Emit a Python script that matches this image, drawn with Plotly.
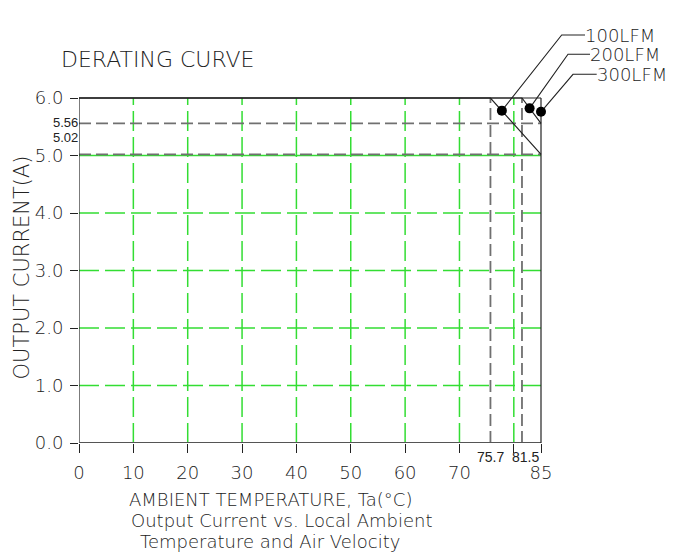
import plotly.graph_objects as go

# ---------------- data ----------------
temp_100 = [0, 75.7, 85]
cur_100 = [6.0, 6.0, 5.02]
temp_200 = [0, 81.5, 85]
cur_200 = [6.0, 6.0, 5.56]
temp_300 = [0, 85]
cur_300 = [6.0, 6.0]

lfm_labels = ["100LFM", "200LFM", "300LFM"]
dot_temps = [77.8, 82.9, 85.0]
dot_currents = [5.78, 5.82, 5.76]

x_tickvals = [0, 10, 20, 30, 40, 50, 60, 70, 80, 85]
x_ticktext = ["0", "10", "20", "30", "40", "50", "60", "70", "", "85"]
y_tickvals = [0, 1, 2, 3, 4, 5, 6]
y_ticktext = ["0.0", "1.0", "2.0", "3.0", "4.0", "5.0", "6.0"]

grid_x = [10, 20, 30, 40, 50, 60, 70, 80]
grid_y = [1, 2, 3, 4]

X_MAX = 85
Y_MAX = 6.0

# ---------------- layout geometry (pixels) ----------------
OFF = 8                      # page body margin
W, H = 668, 548
AX0_X, AX0_Y = 79, 443       # screen px of the data origin
L, R, T = AX0_X - OFF, 0, 0
B = H - (AX0_Y - OFF)
PX_PER_X = (541 - 79) / 85.0
PX_PER_Y = (443 - 98) / 6.0
pw, ph = W - L - R, H - T - B


def xp(px):
    return (px - OFF - L) / pw


def yp(py):
    return (H - B - (py - OFF)) / ph


def dx(px):
    return (px - AX0_X) / PX_PER_X


def dy(py):
    return (AX0_Y - py) / PX_PER_Y


FONT = "DejaVu Sans"
WGT = 200
NARROW = "Liberation Sans Narrow, Liberation Sans"
INK = "#222222"
GREEN = "#33dd33"
GRAY = "#707070"

fig = go.Figure()


def seg(xs, ys, color, width, dash="solid"):
    fig.add_trace(go.Scatter(x=xs, y=ys, mode="lines", hoverinfo="skip",
                             line=dict(color=color, width=width, dash=dash),
                             showlegend=False))


# green grid
for gx in grid_x:
    seg([gx, gx], [0, Y_MAX], GREEN, 1.5, "20px,6px")
for gy in grid_y:
    seg([0, X_MAX], [gy, gy], GREEN, 1.5, "20px,6px")
seg([0, X_MAX], [5, 5], GREEN, 1.5)

# gray reference lines from curve break points
for t in (temp_100[1], temp_200[1]):
    seg([t, t], [0, Y_MAX], GRAY, 1.8, "12px,5px")
for c in (cur_100[-1], cur_200[-1]):
    seg([0, X_MAX], [c, c], GRAY, 1.8, "12px,5px")

# frame
seg([0, 0], [0, Y_MAX], INK, 1.2)
seg([0, X_MAX], [0, 0], "#555555", 1.8)
seg([X_MAX, X_MAX], [0, Y_MAX], INK, 1.2)

# curves
seg(temp_300, cur_300, INK, 1.2)
seg(temp_200, cur_200, INK, 1.2)
seg(temp_100, cur_100, INK, 1.2)

# leaders (bend and end, screen pixels)
bends_px = [(561.7, 35), (568, 54.3), (573, 74.3)]
ends_px = [585, 590, 596.7]
for i in range(3):
    bx, by = dx(bends_px[i][0]), dy(bends_px[i][1])
    ex = dx(ends_px[i])
    seg([dot_temps[i], bx, ex], [dot_currents[i], by, by], INK, 1.1)
    fig.add_annotation(x=ex, y=by, xref="x", yref="y", text=lfm_labels[i],
                       showarrow=False, xanchor="left", yanchor="middle",
                       xshift=-2, font=dict(family=FONT, size=18, color=INK, weight=WGT))

fig.add_trace(go.Scatter(x=dot_temps, y=dot_currents, mode="markers",
                         marker=dict(color="black", size=10, symbol="circle"),
                         hoverinfo="skip", showlegend=False))

# small value labels
for t in (temp_100[1], temp_200[1]):
    fig.add_annotation(x=t, y=0, xref="x", yref="y", text=str(t), showarrow=False,
                       xanchor="center", yanchor="top", yshift=-4,
                       xshift=0 if t == temp_100[1] else 4,
                       font=dict(family=NARROW, size=14, color=INK))
for c, ys in ((cur_200[-1], 1), (cur_100[-1], 17)):
    fig.add_annotation(x=0, y=c, xref="x", yref="y", text=f"{c:.2f}", showarrow=False,
                       xanchor="right", yanchor="middle", yshift=ys, xshift=1,
                       font=dict(family=NARROW, size=13, color=INK))

# titles
fig.add_annotation(x=xp(158), y=yp(59), xref="paper", yref="paper",
                   xanchor="center", yanchor="middle",
                   text="DERATING CURVE", showarrow=False,
                   font=dict(family=FONT, size=22, color=INK, weight=WGT))
fig.add_annotation(x=xp(21.5), y=yp(268), xref="paper", yref="paper",
                   xanchor="center", yanchor="middle",
                   text="OUTPUT CURRENT(A)", showarrow=False, textangle=-90,
                   font=dict(family=FONT, size=21, color=INK, weight=WGT))
for txt, cx, cy in (("AMBIENT TEMPERATURE, Ta(°C)", 270, 499),
                    ("Output Current vs. Local Ambient", 282, 520),
                    ("Temperature and Air Velocity", 270, 541)):
    fig.add_annotation(x=xp(cx), y=yp(cy), xref="paper", yref="paper",
                       xanchor="center", yanchor="middle",
                       text=txt, showarrow=False,
                       font=dict(family=FONT, size=18, color=INK, weight=WGT))

fig.update_layout(
    width=W, height=H, autosize=False,
    margin=dict(l=L, r=R, t=T, b=B, pad=0),
    paper_bgcolor="white", plot_bgcolor="white",
    showlegend=False,
    xaxis=dict(range=[0, pw / PX_PER_X], showgrid=False, zeroline=False,
               showline=False, ticks="outside", ticklen=9, tickwidth=1,
               tickcolor=INK, tickvals=x_tickvals, ticktext=x_ticktext,
               ticklabelstandoff=4,
               tickfont=dict(family=FONT, size=18, color=INK, weight=WGT), fixedrange=True),
    yaxis=dict(range=[0, ph / PX_PER_Y], showgrid=False, zeroline=False,
               showline=False, ticks="outside", ticklen=8, tickwidth=1,
               tickcolor=INK, tickvals=y_tickvals, ticktext=y_ticktext,
               ticklabelstandoff=3,
               tickfont=dict(family=FONT, size=18, color=INK, weight=WGT), fixedrange=True),
)

fig.write_html("out.html")
